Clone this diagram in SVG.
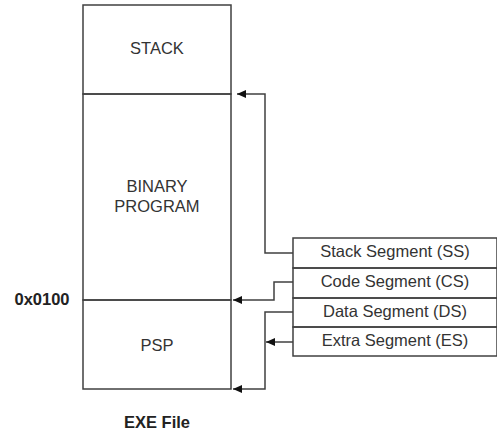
<svg xmlns="http://www.w3.org/2000/svg" width="497" height="434" viewBox="0 0 497 434">
<defs>
<style>
.box{fill:none;stroke:#404040;stroke-width:1.5}
.con{fill:none;stroke:#404040;stroke-width:1.5}
.t{font-family:"Liberation Sans",Arial,sans-serif;font-size:16.5px;fill:#333;text-anchor:middle}
.b{font-weight:bold;fill:#222}
</style>
<marker id="ah" markerWidth="9" markerHeight="8" refX="9" refY="4" orient="auto" markerUnits="userSpaceOnUse">
<path d="M0,0 L9,4 L0,8 Z" fill="#111"/>
</marker>
</defs>
<rect width="497" height="434" fill="#fff"/>
<g id="stack">
<rect class="box" x="83" y="5" width="148" height="89"/>
<text class="t" x="157" y="54">STACK</text>
</g>
<g id="binary">
<rect class="box" x="83" y="94" width="148" height="206"/>
<text class="t" x="157" y="192">BINARY</text>
<text class="t" x="157" y="212">PROGRAM</text>
</g>
<g id="psp">
<rect class="box" x="83" y="300" width="148" height="89"/>
<text class="t" x="157" y="351">PSP</text>
</g>
<g id="addr">
<text class="t b" x="42" y="305">0x0100</text>
</g>
<g id="caption">
<text class="t b" x="157" y="428">EXE File</text>
</g>
<g id="ss">
<rect class="box" x="293" y="238" width="204" height="30"/>
<text class="t" x="395" y="257">Stack Segment (SS)</text>
</g>
<g id="cs">
<rect class="box" x="293" y="268" width="204" height="30"/>
<text class="t" x="395" y="287">Code Segment (CS)</text>
</g>
<g id="ds">
<rect class="box" x="293" y="298" width="204" height="29"/>
<text class="t" x="395" y="317">Data Segment (DS)</text>
</g>
<g id="es">
<rect class="box" x="293" y="327" width="204" height="29"/>
<text class="t" x="395" y="346">Extra Segment (ES)</text>
</g>
<g id="connectors">
<polyline class="con" points="293,253 265,253 265,94 237,94" marker-end="url(#ah)"/>
<polyline class="con" points="293,282 274,282 274,300 233,300" marker-end="url(#ah)"/>
<polyline class="con" points="293,312 265,312 265,389 233,389" marker-end="url(#ah)"/>
<polyline class="con" points="293,342 266,342" marker-end="url(#ah)"/>
</g>
</svg>
